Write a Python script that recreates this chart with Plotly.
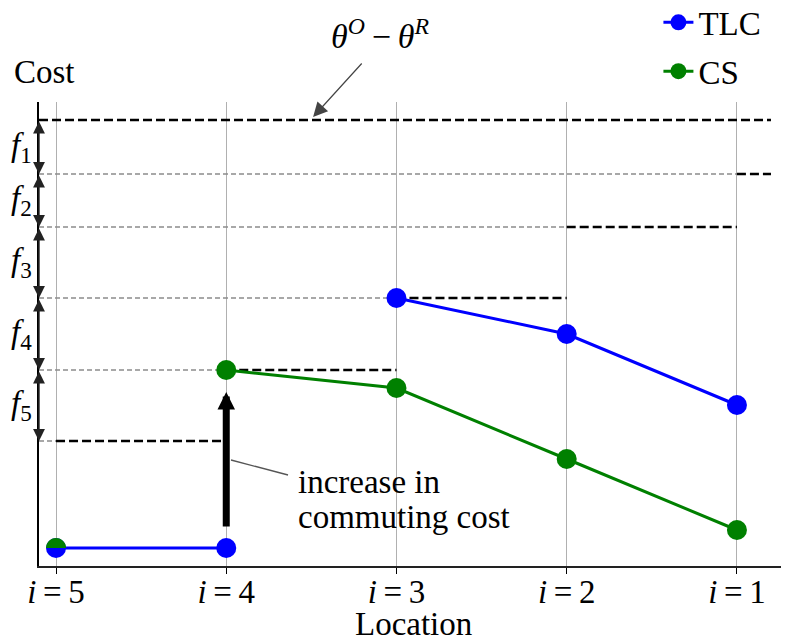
import plotly.graph_objects as go

# locations i = 5 ... 1 (x axis runs from i=5 on the left to i=1 on the right)
locations = [5, 4, 3, 2, 1]
tick_labels = ["<i>i</i>\u2009=\u2009%d" % i for i in locations]

tlc_cost = [1.8, 1.8, 26.8, 23.2, 16.1]
cs_cost = [1.8, 19.6, 17.8, 10.7, 3.6]

theta_gap = 44.6                           # theta^O - theta^R
f_levels = [39.2, 33.9, 26.8, 19.6, 12.5]  # level left after taking off f1..f5
f_labels = ["<i>f</i><sub>%d</sub>" % k for k in range(1, 6)]

commute_from, commute_to = 3.8, 17.4       # "increase in commuting cost" arrow

FONT = "Liberation Serif, Times New Roman, serif"
X_LEFT, X_RIGHT, LINE_END = 5.1, 0.7, 0.8
Y_TOP = 46.4

fig = go.Figure()

# dashed cost levels: thin gray part from the axis, thick black part per location
gray_x, gray_y = [], []
black_x, black_y = [X_LEFT, LINE_END, None], [theta_gap, theta_gap, None]
for k, lvl in enumerate(f_levels, start=1):
    end = k - 1 if k > 1 else LINE_END
    gray_x += [X_LEFT, k, None]
    gray_y += [lvl, lvl, None]
    black_x += [k, end, None]
    black_y += [lvl, lvl, None]

fig.add_trace(go.Scatter(x=gray_x, y=gray_y, mode="lines", showlegend=False,
                         line=dict(color="#8c8c8c", width=1.3, dash="5px,3px"),
                         hoverinfo="skip"))
fig.add_trace(go.Scatter(x=black_x, y=black_y, mode="lines", showlegend=False,
                         line=dict(color="black", width=2.3, dash="9px,4px"),
                         hoverinfo="skip"))

# TLC: flat part at i=5,4 and the jump at i=3..1
fig.add_trace(go.Scatter(
    x=locations[:2] + [None] + locations[2:],
    y=tlc_cost[:2] + [None] + tlc_cost[2:],
    mode="lines+markers", name="TLC", legendgroup="tlc",
    line=dict(color="#0000ff", width=3),
    marker=dict(color="#0000ff", size=20),
))
fig.add_trace(go.Scatter(
    x=locations[1:], y=cs_cost[1:],
    mode="lines+markers", name="CS", legendgroup="cs",
    line=dict(color="#008000", width=3),
    marker=dict(color="#008000", size=20),
))

# CS at i=5 sits on the TLC point: show it as the top half of the marker
fig.add_shape(type="path", xref="x", yref="y",
              xsizemode="pixel", ysizemode="pixel",
              xanchor=locations[0], yanchor=cs_cost[0],
              path="M-10,0 C-10,5.52 -5.52,10 0,10 C5.52,10 10,5.52 10,0 Z",
              fillcolor="#008000", line=dict(width=0), layer="above")

# double arrows for f1..f5 along the y axis
bounds = [theta_gap] + f_levels
for k in range(5):
    fig.add_annotation(x=X_LEFT, y=bounds[k + 1], ax=X_LEFT, ay=bounds[k],
                       xref="x", yref="y", axref="x", ayref="y", text="",
                       showarrow=True, arrowside="end+start",
                       arrowhead=2, startarrowhead=2,
                       arrowsize=1.7, startarrowsize=1.7, arrowwidth=1.4,
                       arrowcolor="#222", standoff=0, startstandoff=0)
    fig.add_annotation(x=-0.024, y=(bounds[k] + bounds[k + 1]) / 2,
                       xref="paper", yref="y", text=f_labels[k], showarrow=False,
                       xanchor="center", yanchor="middle",
                       font=dict(family=FONT, size=33, color="black"))

# increase in commuting cost
fig.add_annotation(x=locations[1], y=commute_to, ax=locations[1], ay=commute_from,
                   xref="x", yref="y", axref="x", ayref="y", text="",
                   showarrow=True, arrowhead=2, arrowsize=0.5, arrowwidth=7,
                   arrowcolor="black", standoff=0)
fig.add_shape(type="line", xref="x", yref="y", x0=3.972, y0=10.6, x1=3.637, y1=9.1,
              line=dict(color="#555", width=1.3))
fig.add_annotation(x=3.59, y=8.4, xref="x", yref="y", text="increase in",
                   showarrow=False, xanchor="left", yanchor="middle",
                   font=dict(family=FONT, size=33, color="black"))
fig.add_annotation(x=3.59, y=4.9, xref="x", yref="y", text="commuting cost",
                   showarrow=False, xanchor="left", yanchor="middle",
                   font=dict(family=FONT, size=33, color="black"))

# theta^O - theta^R pointer
fig.add_annotation(x=3.49, y=44.9, xref="x", yref="y", text="",
                   showarrow=True, ax=50, ay=-55, arrowhead=2, arrowsize=2.4,
                   arrowwidth=1.2, arrowcolor="#444", standoff=0)
fig.add_annotation(x=0.455, y=1.147, xref="paper", yref="paper",
                   text="<i>θ</i><sup><i>O</i></sup>\u2009−\u2009<i>θ</i><sup><i>R</i></sup>",
                   showarrow=False, xanchor="center", yanchor="middle",
                   font=dict(family=FONT, size=34, color="black"))

fig.add_annotation(x=0.0067, y=1.065, xref="paper", yref="paper", text="Cost",
                   showarrow=False, xanchor="center", yanchor="middle",
                   font=dict(family=FONT, size=33, color="black"))
fig.add_annotation(x=0.5, y=-0.126, xref="paper", yref="paper", text="Location",
                   showarrow=False, xanchor="center", yanchor="middle",
                   font=dict(family=FONT, size=33, color="black"))

fig.update_xaxes(range=[X_LEFT, X_RIGHT], tickvals=locations, ticktext=tick_labels,
                 ticks="outside", ticklen=6, tickwidth=1.3, tickcolor="black",
                 ticklabelstandoff=-10, automargin=False,
                 showgrid=True, gridcolor="#b0b0b0", gridwidth=1,
                 showline=True, linecolor="#222", linewidth=1.5, zeroline=False,
                 tickfont=dict(family=FONT, size=33, color="black"))
fig.update_yaxes(range=[0, Y_TOP], showticklabels=False, ticks="", showgrid=False,
                 automargin=False,
                 showline=True, linecolor="black", linewidth=1.5, zeroline=False)

# the page puts the figure 8px in from the top-left corner of the window,
# so the figure is 8px smaller and the margins are shifted to match
fig.update_layout(
    width=781, height=632,
    margin=dict(l=31, r=1, t=94, b=74, autoexpand=False),
    plot_bgcolor="white", paper_bgcolor="white",
    font=dict(family=FONT, size=33, color="black"),
    legend=dict(x=0.827, y=1.232, xanchor="left", yanchor="top", tracegroupgap=3,
                bgcolor="rgba(0,0,0,0)", font=dict(family=FONT, size=33)),
)

fig.write_html("out.html")
